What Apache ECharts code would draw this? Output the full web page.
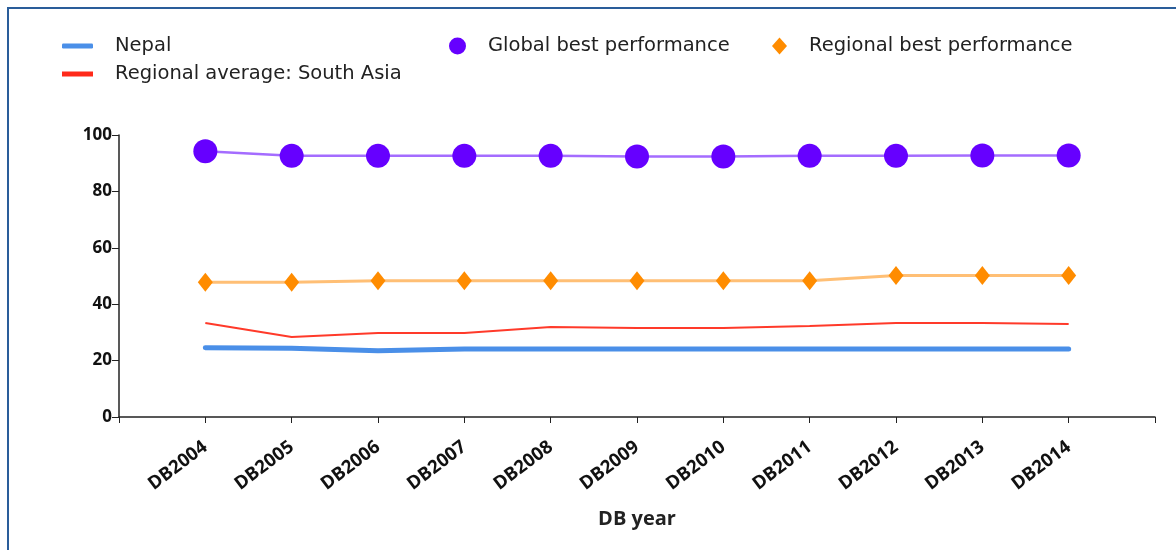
<!DOCTYPE html>
<html>
<head>
<meta charset="utf-8">
<script src="https://cdn.jsdelivr.net/npm/echarts@6/dist/echarts.min.js"></script>
<style>
	html, body { margin: 0; padding: 0; background: #fff; overflow: hidden; }
	#frame { position: absolute; left: 7px; top: 7px; width: 1180px; height: 560px; border: 2px solid #2a5d9a; box-sizing: border-box; }
	#main { position: absolute; left: 0; top: 0; width: 1176px; height: 550px; }
</style>
</head>
<body>
<div id="frame"></div>
<div id="main"></div>
<script>
// 数据
var years = ['', 'DB2004', 'DB2005', 'DB2006', 'DB2007', 'DB2008', 'DB2009', 'DB2010', 'DB2011', 'DB2012', 'DB2013', 'DB2014', ''];
var nepal = [null, 24.6, 24.4, 23.5, 24.1, 24.1, 24.1, 24.1, 24.1, 24.1, 24.1, 24.1, null];
var regionalAvg = [null, 33.3, 28.4, 29.8, 29.8, 31.9, 31.6, 31.6, 32.3, 33.3, 33.3, 33.0, null];
var globalBest = [null, 94.2, 92.6, 92.6, 92.6, 92.6, 92.4, 92.4, 92.6, 92.6, 92.7, 92.7, null];
var regionalBest = [null, 47.8, 47.8, 48.3, 48.3, 48.3, 48.3, 48.3, 48.3, 50.2, 50.2, 50.2, null];

var myChart = echarts.init(document.getElementById('main'));
var legendText = { fontFamily: 'DejaVu Sans', fontSize: 19.5, color: '#222', padding: [0, 0, 0, 17] };
var option = {
	animation: false,
	legend: [{
		left: 62, top: 36,
		padding: 0,
		orient: 'vertical',
		itemGap: 8,
		itemWidth: 31, itemHeight: 5,
		textStyle: legendText,
		data: [
			{ name: 'Nepal', icon: 'roundRect' },
			{ name: 'Regional average: South Asia', icon: 'rect', itemStyle: { color: '#ff2a1a' } }
		]
	}, {
		left: 449, top: 36,
		padding: 0,
		itemWidth: 17, itemHeight: 17,
		textStyle: legendText,
		data: [{ name: 'Global best performance', icon: 'circle' }]
	}, {
		left: 772, top: 36,
		padding: 0,
		itemWidth: 15, itemHeight: 17,
		textStyle: legendText,
		data: [{ name: 'Regional best performance', icon: 'diamond' }]
	}],
	grid: {
		left: 119,
		right: 21,
		top: 135,
		bottom: 133
	},
	xAxis: {
		type: 'category',
		boundaryGap: false,
		data: years,
		name: 'DB year',
		nameLocation: 'middle',
		nameGap: 92,
		nameTextStyle: { fontFamily: 'Open Sans', fontWeight: 'bold', fontSize: 20, color: '#222' },
		axisLine: { lineStyle: { color: '#222', width: 1.5 } },
		axisTick: { show: true, inside: false, length: 6, interval: 0, lineStyle: { color: '#222' } },
		axisLabel: {
			interval: 0,
			rotate: 37,
			margin: 28,
			fontFamily: 'Open Sans', fontWeight: 'bold', fontSize: 18.5, color: '#111'
		},
		splitLine: { show: false }
	},
	yAxis: {
		type: 'value',
		min: 0,
		max: 100,
		interval: 20,
		axisLine: { show: true, lineStyle: { color: '#222', width: 1.5 } },
		axisTick: { show: true, inside: false, length: 7, lineStyle: { color: '#222' } },
		axisLabel: { margin: 7, fontFamily: 'Open Sans', fontWeight: 'bold', fontSize: 17, color: '#111' },
		splitLine: { show: false }
	},
	series: [{
		name: 'Nepal',
		type: 'line',
		data: nepal,
		showSymbol: false,
		itemStyle: { color: '#4a8fe8' },
		lineStyle: { width: 5, color: '#4a8fe8', cap: 'round' },
		z: 2
	}, {
		name: 'Regional average: South Asia',
		type: 'line',
		data: regionalAvg,
		showSymbol: false,
		itemStyle: { color: '#ff2a1a' },
		lineStyle: { width: 2, color: '#ff3a2a' },
		z: 3
	}, {
		name: 'Global best performance',
		type: 'line',
		data: globalBest,
		symbol: 'circle',
		symbolSize: 24,
		itemStyle: { color: '#6600ff' },
		lineStyle: { width: 2.5, color: '#a46cff' },
		z: 4
	}, {
		name: 'Regional best performance',
		type: 'line',
		data: regionalBest,
		symbol: 'diamond',
		symbolSize: [15, 19],
		itemStyle: { color: '#ff8c00' },
		lineStyle: { width: 3, color: '#ffbf75' },
		z: 4
	}]
};
myChart.setOption(option);
</script>
</body>
</html>
